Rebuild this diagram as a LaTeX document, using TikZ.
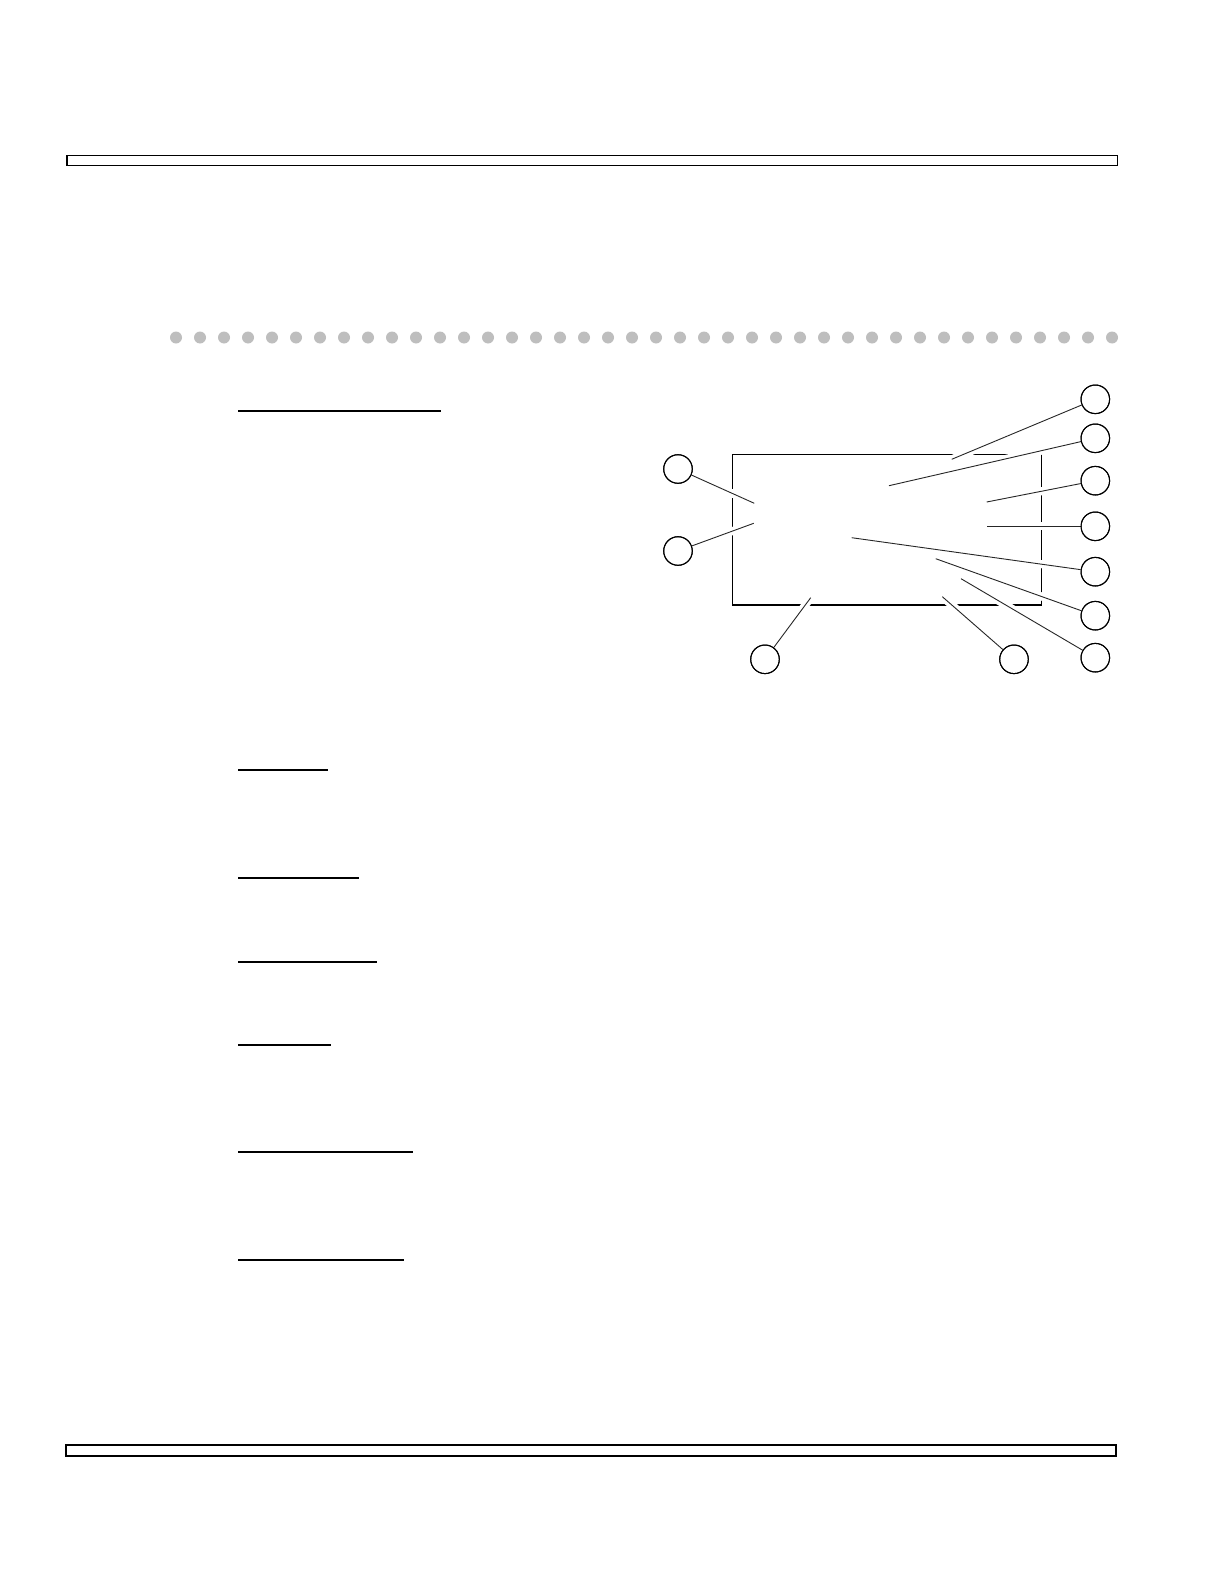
\documentclass[tikz,border=0pt]{standalone}
\begin{document}
\begin{tikzpicture}[x=0.5pt,y=-0.5pt,
  bar/.style={draw=black,line width=0.8pt},
  bar2/.style={draw=black,line width=1pt},
  uline/.style={draw=black,line width=1pt},
  dotfill/.style={fill={rgb,255:red,190;green,190;blue,190}},
  frame/.style={draw=black,line width=0.6pt},
  callout/.style={circle,draw=black,line width=0.5pt,minimum size=14.3pt,inner sep=0pt},
  leader/.style={draw=black!85,line width=0.45pt},
  halo/.style={draw=white,line width=4pt}]
\useasboundingbox (0,0) rectangle (1224,1584);
% header / footer bars
\draw[bar] (67,155.3) rectangle (1117.4,165.5);
\draw[bar2] (65.5,1445) rectangle (1116,1455.5);
% dotted rule
\foreach \k in {0,...,39} \fill[dotfill] (176+24*\k,337.5) circle (6);
% underlines
\draw[uline] (238,411) -- (441,411);
\draw[uline] (238,769.5) -- (328,769.5);
\draw[uline] (238,878) -- (359,878);
\draw[uline] (238,962) -- (377,962);
\draw[uline] (238,1045.3) -- (331,1045.3);
\draw[uline] (238,1151.5) -- (413,1151.5);
\draw[uline] (238,1259.5) -- (404,1259.5);
% frame
\draw[frame] (732.3,454.3) rectangle (1041.3,605);
% callout circles
\node[callout] (c1) at (1095.3,399.3) {};
\node[callout] (c2) at (1095.3,438.3) {};
\node[callout] (c3) at (1095.3,480.7) {};
\node[callout] (c4) at (1095.3,526.3) {};
\node[callout] (c5) at (1095.3,571.7) {};
\node[callout] (c6) at (1095.3,615.7) {};
\node[callout] (c7) at (1095.3,657.7) {};
\node[callout] (lt) at (678,469) {};
\node[callout] (lb) at (678,551) {};
\node[callout] (bl) at (765,659.3) {};
\node[callout] (br) at (1014,659.3) {};
% leader targets
\coordinate (p1) at (951.7,459.3);
\coordinate (p2) at (889,485.7);
\coordinate (p3) at (986.7,502);
\coordinate (p4) at (986.7,526.3);
\coordinate (p5) at (851.7,537.7);
\coordinate (p6) at (935.7,558.7);
\coordinate (p7) at (961,578.7);
\coordinate (plt) at (754.3,503.3);
\coordinate (plb) at (753.7,523.3);
\coordinate (pbl) at (810.7,597.7);
\coordinate (pbr) at (942.3,596.7);
% halos then leaders
\foreach \a/\b in {c1/p1,c2/p2,c3/p3,c4/p4,c5/p5,c6/p6,c7/p7,lt/plt,lb/plb,bl/pbl,br/pbr}
  \draw[halo] (\a) -- (\b);
\foreach \a/\b in {c1/p1,c2/p2,c3/p3,c4/p4,c5/p5,c6/p6,c7/p7,lt/plt,lb/plb,bl/pbl,br/pbr}
  \draw[leader] (\a) -- (\b);
% redraw circles on top
\foreach \n in {c1,c2,c3,c4,c5,c6,c7,lt,lb,bl,br}
  \draw[line width=0.5pt] (\n) circle (7.15pt);
\end{tikzpicture}
\end{document}
